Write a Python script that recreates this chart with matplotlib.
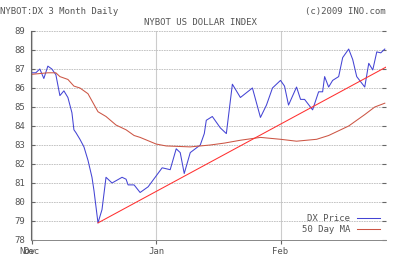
import matplotlib.pyplot as plt

# days counted from Dec 1, 2008
price_days = [0, 1, 2, 3, 4, 5, 6, 7, 8, 9, 10, 10.5, 11, 12, 13, 14, 15, 15.5, 16.5, 17.5,
              18.5, 20, 22.5, 23.5, 24, 25.5, 27, 29, 32.5, 34.5, 36, 37, 38, 39.5, 42, 43,
              43.5, 45, 47, 48.5, 50, 52, 55, 57, 58.5, 60, 62, 63, 64, 66, 67, 68, 70,
              71.5, 72.5, 73, 74, 75, 76.5, 77.5, 79, 80, 81, 83, 84, 85, 86, 87, 88]
price = [86.8, 86.8, 87.0, 86.5, 87.15, 87.0, 86.7, 85.6, 85.85, 85.5, 84.7, 83.8, 83.65,
         83.3, 82.9, 82.2, 81.3, 80.6, 78.9, 79.6, 81.3, 81.0, 81.3, 81.2, 80.9, 80.9, 80.5,
         80.8, 81.8, 81.7, 82.8, 82.6, 81.5, 82.6, 83.0, 83.6, 84.3, 84.5, 83.9, 83.6, 86.2,
         85.5, 86.0, 84.45, 85.1, 86.0, 86.4, 86.1, 85.1, 86.05, 85.4, 85.4, 84.85, 85.8,
         85.8, 86.6, 86.05, 86.4, 86.6, 87.6, 88.05, 87.5, 86.6, 86.05, 87.3, 86.95, 87.9,
         87.85, 88.05]

ma_days = [0, 4, 6, 7, 9, 10.5, 12, 14, 16.5, 18.5, 21, 23.5, 25.5, 27, 31, 33.5, 39.5,
           44.5, 48, 52, 57, 62, 66, 71, 74, 76.5, 79, 81, 83, 85.5, 88]
ma = [86.72, 86.8, 86.8, 86.6, 86.45, 86.1, 86.0, 85.7, 84.75, 84.5, 84.05, 83.8, 83.5,
      83.4, 83.05, 82.95, 82.9, 83.0, 83.1, 83.25, 83.4, 83.3, 83.2, 83.3, 83.5, 83.75,
      84.0, 84.3, 84.6, 85.0, 85.2]

trend_days = [16.5, 88.3]
trend = [78.9, 87.1]

month_days = [0, 31, 62]
month_labels = ["Dec", "Jan", "Feb"]

plt.rcParams['font.family'] = 'DejaVu Sans Mono'

fig = plt.figure(figsize=(4, 2.62), dpi=100)
ax = fig.add_axes([0.0775, 0.084, 0.8875, 0.7977])

ax.plot(price_days, price, color='#4444d4', lw=0.75, label='DX Price')
ax.plot(ma_days, ma, color='#cc5544', lw=0.75, label='50 Day MA')
ax.plot(trend_days, trend, color='#ff3030', lw=0.75)

ax.set_yticks(range(78, 90))
ax.set_xticks(month_days)
ax.set_xticklabels(month_labels)
ax.set_xlim(-0.2, 88.3)
ax.set_ylim(78, 89)
# the "Nov" label sits under "Dec" on the original chart
ax.annotate("Nov", xy=(-1.2, 0), xycoords=('data', 'axes fraction'), xytext=(0, -5),
            textcoords='offset points', ha='center', va='top', fontsize=6.5,
            color='#555555', annotation_clip=False)

ax.grid(axis='y', color='#bbbbbb', lw=0.6, ls=(0, (2, 1)))
ax.grid(axis='x', color='#cccccc', lw=0.8)
for s in ['top', 'right']:
    ax.spines[s].set_visible(False)
ax.spines['left'].set_color('#666666')
ax.spines['bottom'].set_color('#888888')
ax.spines['left'].set_linewidth(0.8)
ax.spines['bottom'].set_linewidth(0.7)
ax.tick_params(axis='y', labelsize=6.5, labelcolor='#555555', length=3, pad=4,
               right=True, direction='in', color='#666666')
ax.tick_params(axis='x', labelsize=6.5, labelcolor='#555555', length=3,
               color='#666666', pad=2)

fig.text(0.0, 0.975, "NYBOT:DX 3 Month Daily", fontsize=6.5, color='#555555', va='top')
fig.text(0.963, 0.975, "(c)2009 INO.com", fontsize=6.5, color='#555555', va='top', ha='right')
fig.text(0.5, 0.93, "NYBOT US DOLLAR INDEX", fontsize=6.5, color='#555555', va='top', ha='center')

ax.legend(loc='lower right', markerfirst=False, frameon=False, fontsize=6.5,
          handlelength=2.5, labelspacing=0.15, borderaxespad=0.3, labelcolor='#555555')

fig.savefig('out.png', dpi=100)
